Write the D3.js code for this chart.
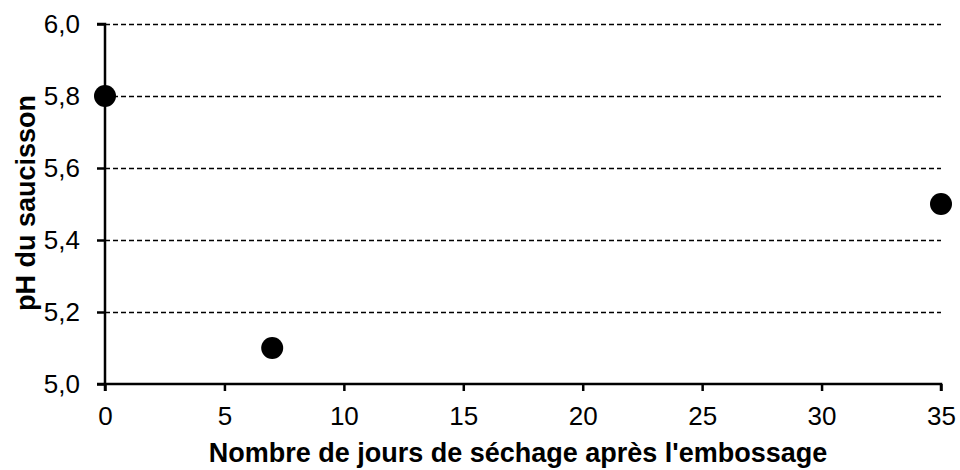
<!DOCTYPE html>
<html><head><meta charset="utf-8">
<script src="https://cdn.jsdelivr.net/npm/d3@7"></script>
<style>body{margin:0;background:#fff}svg{display:block}</style>
</head><body>
<svg id="c" width="960" height="470"></svg>
<script>
const days = [0, 7, 35];
const ph = [5.8, 5.1, 5.5];
const xTicks = [0, 5, 10, 15, 20, 25, 30, 35];
const yTicks = [5.0, 5.2, 5.4, 5.6, 5.8, 6.0];
const xTitle = "Nombre de jours de séchage après l'embossage";
const yTitle = "pH du saucisson";

const svg = d3.select("#c");
const L = 105, R = 941, T = 24, B = 384;
const x = d3.scaleLinear().domain([0, 35]).range([L, R]);
const y = d3.scaleLinear().domain([5.0, 6.0]).range([B, T]);
const font = "'Liberation Sans', Arial, sans-serif";

// gridlines
svg.append("g").selectAll("line").data(yTicks.filter(d => d > 5.0)).join("line")
  .attr("x1", L).attr("x2", R).attr("y1", d => y(d) + 0.5).attr("y2", d => y(d) + 0.5)
  .attr("stroke", "#000").attr("stroke-width", 1.3).attr("stroke-dasharray", "5,3");

const fmt = d => d.toFixed(1).replace(".", ",");
const yAxis = svg.append("g").attr("transform", `translate(${L},0)`)
  .call(d3.axisLeft(y).tickValues(yTicks).tickFormat(fmt).tickSize(8).tickPadding(17));
const xAxis = svg.append("g").attr("transform", `translate(0,${B})`)
  .call(d3.axisBottom(x).tickValues(xTicks).tickFormat(d3.format("d")).tickSize(7).tickPadding(16));
[yAxis, xAxis].forEach(a => {
  a.select(".domain").attr("stroke", "#000").attr("stroke-width", 2.5);
  a.selectAll(".tick line").attr("stroke", "#000").attr("stroke-width", 2.5);
  a.selectAll("text").attr("font-family", font).attr("font-size", 26).attr("fill", "#000");
});
xAxis.select(".domain").attr("d", `M${L},7V0H${R}V7`);
yAxis.select(".domain").attr("d", `M-8,${T}H0V${B}H-8`);

// points
svg.append("g").selectAll("circle").data(days.map((d, i) => [d, ph[i]])).join("circle")
  .attr("cx", d => x(d[0])).attr("cy", d => y(d[1])).attr("r", 11).attr("fill", "#000");

svg.append("text").attr("x", 518).attr("y", 462).attr("text-anchor", "middle")
  .attr("font-family", font).attr("font-weight", "bold").attr("font-size", 27).text(xTitle);
svg.append("text").attr("transform", `translate(35,203) rotate(-90)`).attr("text-anchor", "middle")
  .attr("font-family", font).attr("font-weight", "bold").attr("font-size", 27).text(yTitle);
</script>
</body></html>
